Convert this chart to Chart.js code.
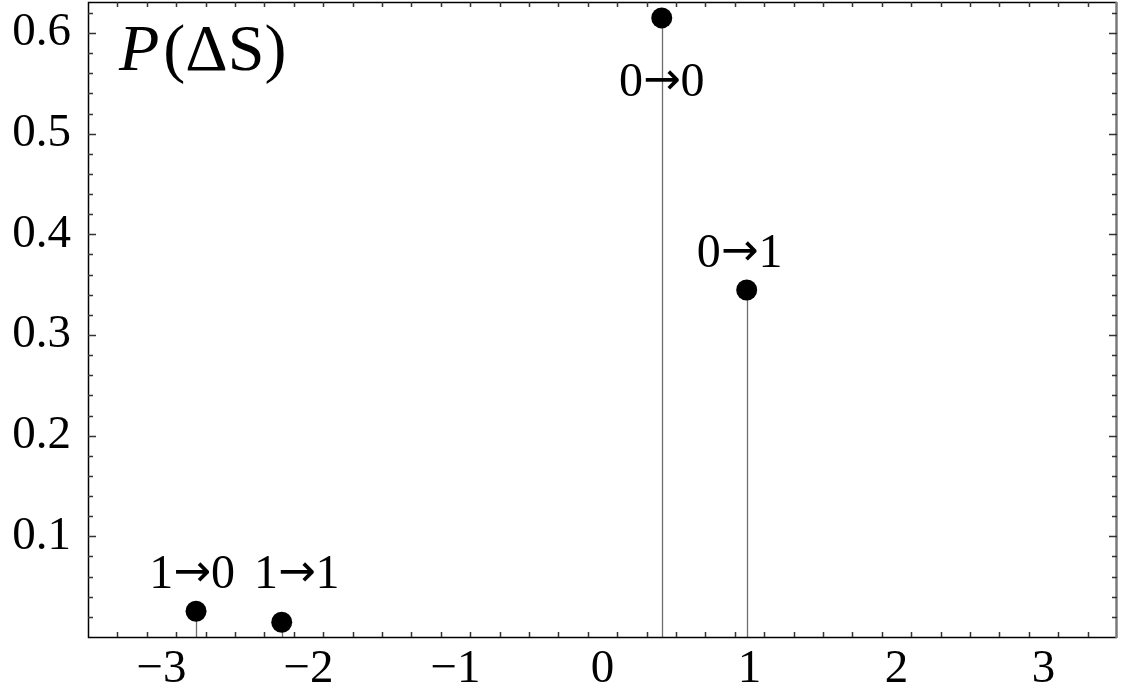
<!DOCTYPE html>
<html>
<head>
<meta charset="utf-8">
<script src="https://cdn.jsdelivr.net/npm/chart.js@4"></script>
<style>
  html, body { margin: 0; padding: 0; background: #fff; }
  canvas { display: block; }
</style>
</head>
<body>
<canvas id="chart" width="1127" height="697"></canvas>
<script>
// Data
const transitions = ['1→0', '1→1', '0→0', '0→1'];
const deltaS = [-2.765, -2.182, 0.403, 0.981];
const probability = [0.0256, 0.0147, 0.615, 0.3447];

const xTicks = [-3, -2, -1, 0, 1, 2, 3];
const yTicks = [0.1, 0.2, 0.3, 0.4, 0.5, 0.6];

// label placement relative to each point (pixels): [dx, dy to baseline]
const labelOffsets = [[-4, -23], [15, -34], [0, 78], [-7, -23]];

const serif = '"Liberation Serif", "DejaVu Serif", serif';
const arrowFont = '"DejaVu Sans", sans-serif';

// stems from each point down to zero
const stems = {
  id: 'stems',
  beforeDatasetsDraw(chart) {
    const ctx = chart.ctx;
    const y0 = chart.scales.y.getPixelForValue(0);
    const meta = chart.getDatasetMeta(0);
    ctx.save();
    ctx.strokeStyle = '#6e6e6e';
    ctx.lineWidth = 1.3;
    meta.data.forEach(p => {
      ctx.beginPath();
      ctx.moveTo(Math.round(p.x) + 0.5, p.y);
      ctx.lineTo(Math.round(p.x) + 0.5, y0);
      ctx.stroke();
    });
    ctx.restore();
  }
};

// frame with inward major / minor ticks on all sides
const frame = {
  id: 'frame',
  afterDatasetsDraw(chart) {
    const ctx = chart.ctx;
    const { left, right, top, bottom } = chart.chartArea;
    const xs = chart.scales.x, ys = chart.scales.y;
    ctx.save();
    ctx.strokeStyle = '#000';
    ctx.lineWidth = 1.5;
    ctx.beginPath();
    ctx.moveTo(right, top + 0.5);
    ctx.lineTo(left + 0.5, top + 0.5);
    ctx.lineTo(left + 0.5, bottom + 0.5);
    ctx.lineTo(right, bottom + 0.5);
    ctx.stroke();
    ctx.strokeStyle = '#7a7a7a';
    ctx.lineWidth = 2.5;
    ctx.beginPath();
    ctx.moveTo(right - 0.5, top);
    ctx.lineTo(right - 0.5, bottom + 1);
    ctx.stroke();

    ctx.strokeStyle = '#333';
    ctx.lineWidth = 1.5;
    for (let i = -35; i <= 35; i += 2) {
      const v = i / 10;
      if (v <= xs.min || v >= xs.max) continue;
      const major = Math.abs(v - Math.round(v)) < 1e-6;
      const len = major ? 8 : 5;
      const px = Math.round(xs.getPixelForValue(v)) + 0.5;
      ctx.beginPath();
      ctx.moveTo(px, bottom); ctx.lineTo(px, bottom - len);
      ctx.moveTo(px, top); ctx.lineTo(px, top + len);
      ctx.stroke();
    }
    for (let i = 2; i <= 62; i += 2) {
      const v = i / 100;
      if (v >= ys.max) continue;
      const major = i % 10 === 0;
      const len = major ? 8 : 5;
      const py = Math.round(ys.getPixelForValue(v)) + 0.5;
      ctx.beginPath();
      ctx.moveTo(left, py); ctx.lineTo(left + len, py);
      ctx.moveTo(right, py); ctx.lineTo(right - len, py);
      ctx.stroke();
    }
    ctx.restore();
  }
};

// draws "a→b" with the arrow taken from a font that has a larger glyph
function drawTransition(ctx, text, cx, baseline) {
  const [a, b] = text.split('→');
  ctx.font = '48px ' + serif;
  const wa = ctx.measureText(a).width;
  const wb = ctx.measureText(b).width;
  ctx.font = '45px ' + arrowFont;
  const wArrow = ctx.measureText('→').width;
  const total = wa + wArrow + wb;
  let x = cx - total / 2;
  ctx.textAlign = 'left';
  ctx.font = '48px ' + serif;
  ctx.fillText(a, x, baseline);
  x += wa;
  ctx.font = '45px ' + arrowFont;
  ctx.fillText('→', x, baseline - 2);
  x += wArrow;
  ctx.font = '48px ' + serif;
  ctx.fillText(b, x, baseline);
}

// point labels and the P(ΔS) title inside the frame
const annotations = {
  id: 'annotations',
  afterDraw(chart) {
    const ctx = chart.ctx;
    const meta = chart.getDatasetMeta(0);
    ctx.save();
    ctx.fillStyle = '#000';
    ctx.textBaseline = 'alphabetic';
    meta.data.forEach((p, i) => {
      const [dx, dy] = labelOffsets[i];
      drawTransition(ctx, transitions[i], p.x + dx, p.y + dy);
    });

    ctx.textAlign = 'left';
    ctx.font = 'italic 66px ' + serif;
    ctx.fillText('P', 119, 70);
    const w = ctx.measureText('P').width;
    ctx.font = '66px ' + serif;
    ctx.fillText('(ΔS)', 119 + w + 4, 70);
    ctx.restore();
  }
};

new Chart(document.getElementById('chart'), {
  type: 'scatter',
  data: {
    datasets: [{
      data: deltaS.map((x, i) => ({ x: x, y: probability[i] })),
      backgroundColor: '#000',
      borderColor: '#000',
      pointRadius: 10.5,
      pointHoverRadius: 10.5,
      borderWidth: 0
    }]
  },
  options: {
    responsive: false,
    animation: false,
    layout: { autoPadding: false, padding: { top: 2, right: 10, left: 0, bottom: 0 } },
    plugins: {
      legend: { display: false },
      tooltip: { enabled: false }
    },
    scales: {
      x: {
        type: 'linear',
        min: -3.5,
        max: 3.5,
        afterBuildTicks: s => { s.ticks = xTicks.map(v => ({ value: v })); },
        afterFit: s => { s.height = 60; s.paddingLeft = 0; s.paddingRight = 0; },
        grid: { display: false, drawTicks: false },
        border: { display: false },
        ticks: {
          padding: 4,
          color: '#000',
          font: { family: serif, size: 47 },
          callback: v => (v < 0 ? '\u2212' + Math.abs(v) : String(v))
        }
      },
      y: {
        type: 'linear',
        min: 0,
        max: 0.6308,
        afterBuildTicks: s => { s.ticks = yTicks.map(v => ({ value: v })); },
        afterFit: s => { s.width = 88; s.paddingTop = 0; s.paddingBottom = 0; },
        grid: { display: false, drawTicks: false },
        border: { display: false },
        ticks: {
          padding: 17,
          color: '#000',
          font: { family: serif, size: 47 },
          callback: v => v.toFixed(1)
        }
      }
    }
  },
  plugins: [stems, frame, annotations]
});
</script>
</body>
</html>
